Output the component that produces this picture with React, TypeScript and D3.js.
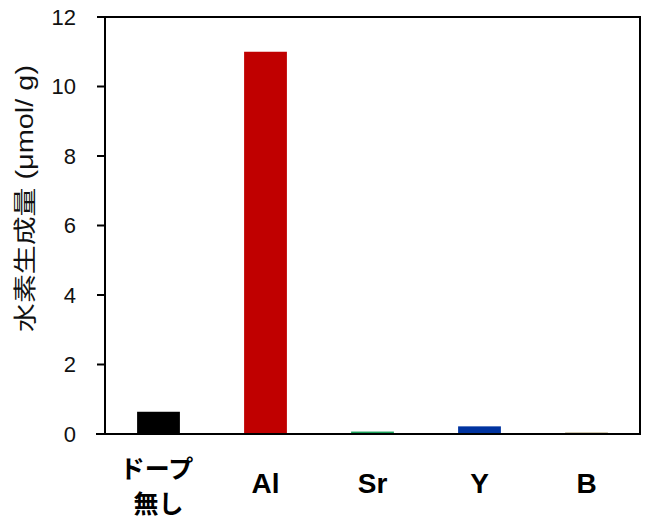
import * as d3 from 'd3'

const categories = ['none', 'Al', 'Sr', 'Y', 'B']
const labelLines: string[][] = [['ドープ', '無し'], ['Al'], ['Sr'], ['Y'], ['B']]
const values = [0.64, 11.0, 0.07, 0.22, 0.04]
const barColors = ['#000000', '#c00000', '#1aa05a', '#0033a0', '#857135']
const yTicks = [0, 2, 4, 6, 8, 10, 12]

const W = 650
const H = 520
const left = 105
const right = 640
const top = 17
const bottom = 434

const latin = '"Liberation Sans", Arial, sans-serif'
const cjk = '"Liberation Sans", "Noto Sans CJK JP", sans-serif'

export default function App() {
  const x = d3.scaleBand<string>().domain(categories).range([left, right]).paddingInner(0.6).paddingOuter(0.3)
  const y = d3.scaleLinear().domain([0, 12]).range([bottom, top])

  return (
    <svg width={W} height={H} style={{ position: 'absolute', left: 0, top: 0 }}>
      <rect width={W} height={H} fill="#fff" />

      {/* bars */}
      {categories.map((c, i) => (
        <rect
          key={c}
          x={x(c)}
          y={y(values[i])}
          width={x.bandwidth()}
          height={Math.max(1.5, bottom - y(values[i]))}
          fill={barColors[i]}
        />
      ))}

      {/* frame */}
      <path
        d={`M${left},${bottom}V${top}H${right}V${bottom}H${left - 9}`}
        fill="none"
        stroke="#000"
        strokeWidth={2}
      />

      {/* y ticks */}
      {yTicks.map((t) => (
        <g key={t}>
          <line x1={left - 8} x2={left} y1={y(t)} y2={y(t)} stroke="#000" strokeWidth={2} />
          <text
            x={76}
            y={y(t)}
            textAnchor="end"
            dominantBaseline="central"
            fontFamily={latin}
            fontSize={22}
            fill="#111"
          >
            {t}
          </text>
        </g>
      ))}

      {/* x labels */}
      {categories.map((c, i) => {
        const cx = (x(c) ?? 0) + x.bandwidth() / 2
        const lines = labelLines[i]
        if (lines.length > 1) {
          return (
            <text key={c} textAnchor="middle" fontFamily={cjk} fontSize={25} fontWeight="bold" fill="#000">
              <tspan x={cx - 2} y={478}>{lines[0]}</tspan>
              <tspan x={cx} y={513}>{lines[1]}</tspan>
            </text>
          )
        }
        return (
          <text
            key={c}
            x={cx}
            y={493}
            textAnchor="middle"
            fontFamily={latin}
            fontSize={28}
            fontWeight="bold"
            fill="#000"
          >
            {lines[0]}
          </text>
        )
      })}

      {/* y label */}
      <text
        transform="translate(25,198.5) rotate(-90)"
        textAnchor="middle"
        dominantBaseline="central"
        fontFamily={cjk}
        fontSize={23}
        fill="#111"
        textLength={267}
        lengthAdjust="spacingAndGlyphs"
      >
        水素生成量 (μmol/ g)
      </text>
    </svg>
  )
}
